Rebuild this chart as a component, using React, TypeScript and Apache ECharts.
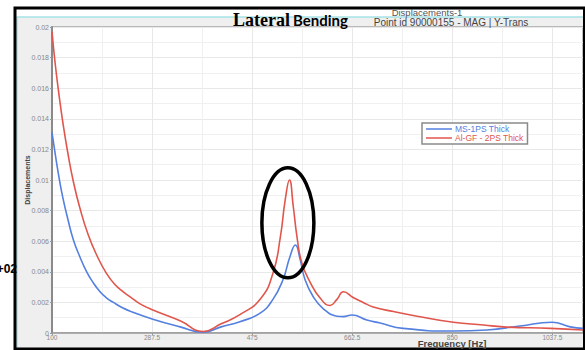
import React, { useEffect, useRef } from "react";
import * as echarts from "echarts";

const seriesNames = ["MS-1PS Thick", "Al-GF - 2PS Thick"];

const freqBlue = [100, 106, 112, 120, 130, 140, 152, 165, 177, 190, 202, 215, 232, 250, 289, 340, 383, 417, 452, 490, 514, 533, 546, 556, 565, 574, 589, 608, 634, 646, 662, 690, 715, 758, 852, 915, 977, 1037, 1071, 1095];
const dispBlue = [0.0131, 0.0117, 0.0104, 0.0089, 0.0074, 0.0061, 0.005, 0.004, 0.0033, 0.0027, 0.0023, 0.002, 0.00165, 0.00138, 0.0009, 0.0004, 0.00005, 0.0004, 0.00074, 0.0013, 0.0022, 0.0035, 0.005, 0.00575, 0.0048, 0.0035, 0.0024, 0.0016, 0.0011, 0.00107, 0.00118, 0.00085, 0.00065, 0.0003, 0.00013, 0.0002, 0.00046, 0.0007, 0.0004, 0.0003];

const freqRed = [100, 106, 113, 121, 130, 140, 152, 168, 185, 202, 217, 233, 249, 265, 289, 340, 383, 417, 452, 490, 514, 528, 537, 545, 552, 559, 568, 584, 602, 621, 634, 646, 665, 683, 702, 740, 784, 852, 909, 946, 1034, 1095];
const dispRed = [0.0197, 0.0176, 0.0156, 0.0136, 0.0117, 0.0099, 0.0082, 0.0064, 0.005, 0.0039, 0.0032, 0.0027, 0.0023, 0.0019, 0.0015, 0.0008, 0.0001, 0.0006, 0.0012, 0.0022, 0.0039, 0.0063, 0.0087, 0.01, 0.0083, 0.0063, 0.0046, 0.0033, 0.0023, 0.0018, 0.0022, 0.0027, 0.0023, 0.002, 0.0017, 0.0014, 0.0011, 0.0007, 0.00052, 0.0004, 0.0003, 0.0002];

const xMin = 100;
const xMax = 1095;
const xStep = 187.5;
const yMax = 0.02;
const yStep = 0.002;
const highlightCenter = [542, 0.0072];

const BLUE = "#5480e0";
const RED = "#e0564c";

export default function App() {
  const ref = useRef<HTMLDivElement>(null);
  useEffect(() => {
    const chart = echarts.init(ref.current!, null, { renderer: "svg" });
    const option: any = {
      animation: false,
      backgroundColor: "#ffffff",
      grid: {
        left: 52,
        right: 2,
        top: 27,
        bottom: 17,
        show: true,
        backgroundColor: "#ffffff",
        borderColor: "#a8a8a8",
        borderWidth: 1.5,
      },
      legend: {
        orient: "vertical",
        left: 422,
        top: 123,
        icon: "rect",
        itemWidth: 26,
        itemHeight: 1.5,
        itemGap: 0,
        padding: [1.5, 4, 1.5, 4],
        borderColor: "#8a8a8a",
        borderWidth: 1.5,
        backgroundColor: "#ffffff",
        textStyle: { fontSize: 8.5, lineHeight: 8, fontFamily: "Liberation Sans", padding: [0, 0, 0, -2] },
        data: [
          { name: seriesNames[0], textStyle: { color: BLUE } },
          { name: seriesNames[1], textStyle: { color: RED } },
        ],
      },
      xAxis: {
        type: "value",
        min: xMin,
        max: xMax,
        interval: xStep,
        axisLine: { show: true, lineStyle: { color: "#999", width: 1.5 } },
        axisTick: { show: true, length: 2, lineStyle: { color: "#999" } },
        axisLabel: {
          fontSize: 6.5,
          color: "#888",
          margin: 1,
          fontFamily: "Liberation Sans",
          showMaxLabel: false,
          formatter: (v: number) => String(v),
        },
        splitLine: { show: true, lineStyle: { color: "#e8e8e8", width: 1 } },
        minorTick: { show: false, splitNumber: 2 },
        minorSplitLine: { show: true, lineStyle: { color: "#f0f0f0", width: 1 } },
      },
      yAxis: {
        type: "value",
        min: 0,
        max: yMax,
        interval: yStep,
        name: "Displacements",
        nameLocation: "middle",
        nameRotate: 90,
        nameGap: 21,
        nameMoveOverlap: false,
        nameTextStyle: { fontSize: 7, fontWeight: "bold", color: "#444", fontFamily: "Liberation Sans" },
        axisLine: { show: true, lineStyle: { color: "#8a8a8a", width: 2 } },
        axisTick: { show: true, length: 2, lineStyle: { color: "#999" } },
        axisLabel: { fontSize: 7, color: "#888", margin: 3, fontFamily: "Liberation Sans" },
        splitLine: { show: true, lineStyle: { color: "#e8e8e8", width: 1 } },
        minorTick: { show: false, splitNumber: 2 },
        minorSplitLine: { show: true, lineStyle: { color: "#f0f0f0", width: 1 } },
      },
      series: [
        {
          name: seriesNames[0],
          type: "line",
          data: freqBlue.map((f, i) => [f, dispBlue[i]]),
          showSymbol: false,
          symbol: "none",
          smooth: 0.5,
          lineStyle: { color: BLUE, width: 1.6 },
          itemStyle: { color: BLUE },
        },
        {
          name: seriesNames[1],
          type: "line",
          data: freqRed.map((f, i) => [f, dispRed[i]]),
          showSymbol: false,
          symbol: "none",
          smooth: 0.5,
          lineStyle: { color: RED, width: 1.6 },
          itemStyle: { color: RED },
        },
      ],
    };
    chart.setOption(option);
    const c = chart.convertToPixel({ gridIndex: 0 }, highlightCenter) as number[];
    chart.setOption({
      graphic: [
        { type: "rect", z: -10, silent: true, shape: { x: 17, y: 17, width: 566, height: 333 }, style: { fill: "#efefef" } },
        { type: "polyline", z: -9, silent: true, shape: { points: [[17, 350], [17, 17], [583, 17]] }, style: { stroke: "#a6e2e6", lineWidth: 1.5, fill: null } },
        { type: "rect", z: 50, silent: true, shape: { x: 15, y: 8, width: 569.5, height: 341 }, style: { fill: null, stroke: "#000", lineWidth: 3 } },
        { type: "ellipse", z: 60, silent: true, shape: { cx: c[0], cy: c[1], rx: 26, ry: 55 }, style: { fill: null, stroke: "#000", lineWidth: 3.5 } },
        { type: "text", z: 60, x: 233, y: 20, style: { text: "Lateral", font: "bold 18px 'Liberation Serif'", fill: "#000", verticalAlign: "middle" } },
        { type: "text", z: 60, x: 293, y: 19.5, style: { text: "Bending", font: "bold 15px Lato", fill: "#000", verticalAlign: "middle" } },
        { type: "text", z: 60, x: 427, y: 12, style: { text: "Displacements-1", font: "9.5px 'Liberation Sans'", fill: "#555", align: "center", verticalAlign: "middle" } },
        { type: "text", z: 60, x: 451, y: 22.5, style: { text: "Point id 90000155 - MAG | Y-Trans", font: "10px 'Liberation Sans'", fill: "#444", align: "center", verticalAlign: "middle" } },
        { type: "text", z: 60, x: 452, y: 343.5, style: { text: "Frequency [Hz]", font: "bold 9.5px 'Liberation Sans'", fill: "#444", align: "center", verticalAlign: "middle" } },
        { type: "text", z: 60, x: 17, y: 269, style: { text: "e+02", font: "bold 12px 'Liberation Sans'", fill: "#000", align: "right", verticalAlign: "middle" } },
      ],
    });
    return () => chart.dispose();
  }, []);
  return <div ref={ref} style={{ position: "fixed", left: 0, top: 0, width: 585, height: 350 }} />;
}
